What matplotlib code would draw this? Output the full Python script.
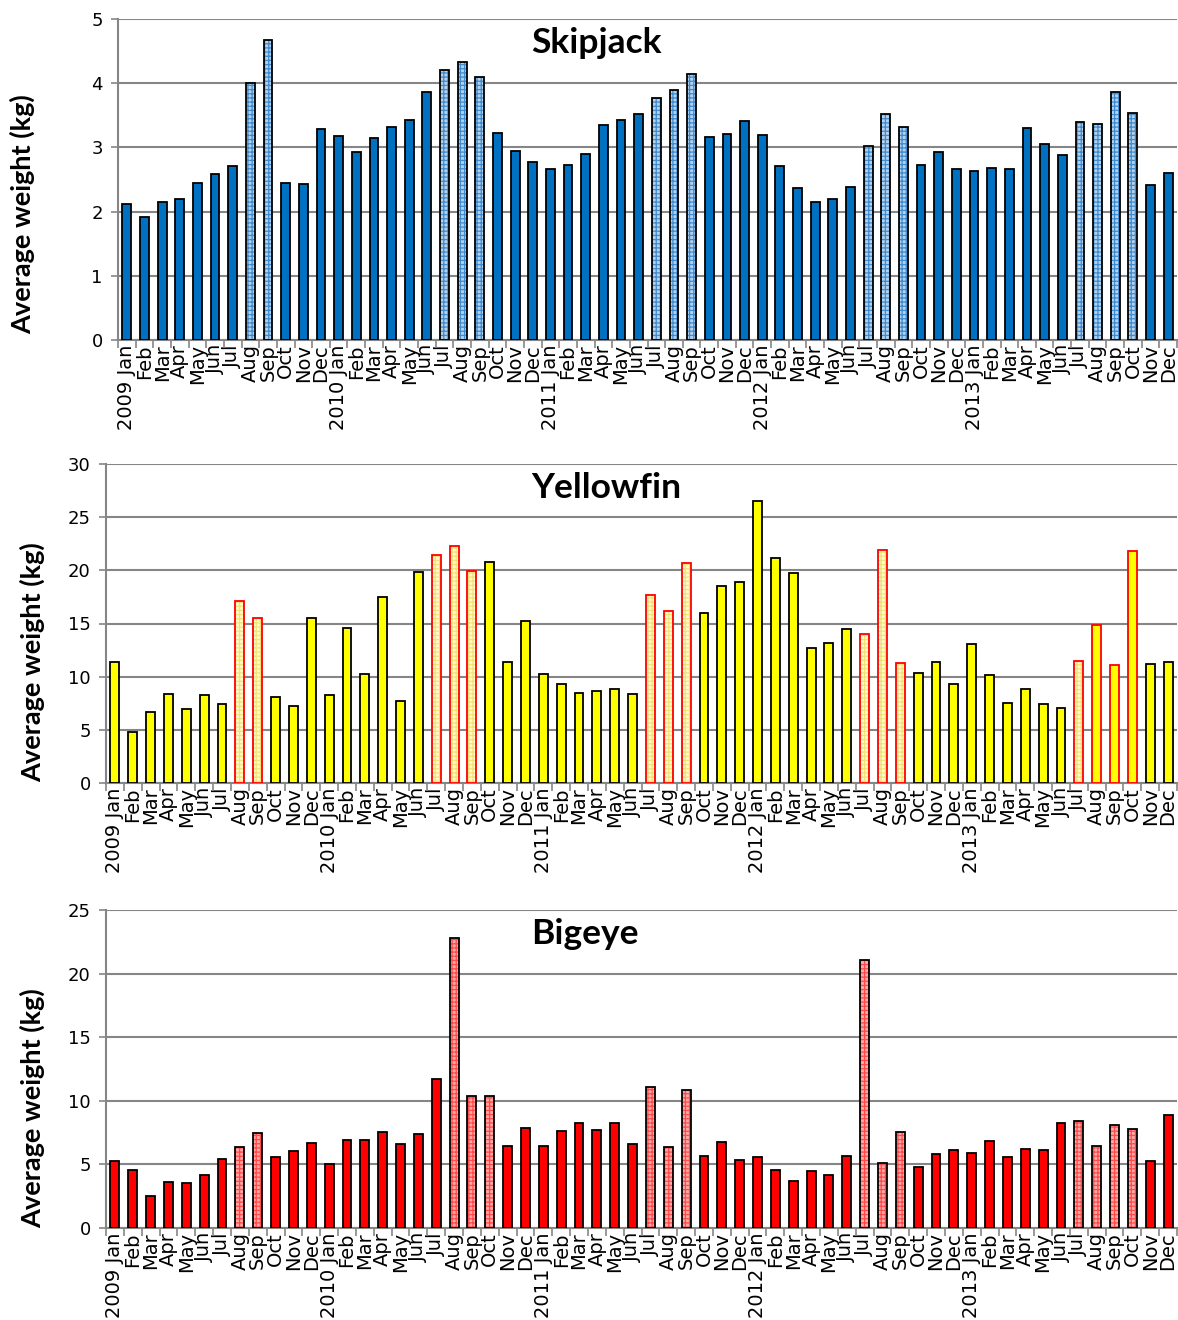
import matplotlib.pyplot as plt
import numpy as np

# month labels, 2009 Jan .. 2013 Dec
months = ['Jan', 'Feb', 'Mar', 'Apr', 'May', 'Jun',
          'Jul', 'Aug', 'Sep', 'Oct', 'Nov', 'Dec']
years = [2009, 2010, 2011, 2012, 2013]
labels = []
for yr in years:
    for m in months:
        labels.append('%d %s' % (yr, m) if m == 'Jan' else m)

skipjack = [2.12, 1.91, 2.15, 2.20, 2.45, 2.58, 2.71, 4.01, 4.68, 2.45, 2.43, 3.29,
            3.17, 2.93, 3.14, 3.32, 3.42, 3.86, 4.20, 4.33, 4.09, 3.23, 2.95, 2.77,
            2.67, 2.73, 2.89, 3.35, 3.43, 3.52, 3.77, 3.90, 4.15, 3.16, 3.21, 3.41,
            3.19, 2.71, 2.37, 2.15, 2.19, 2.39, 3.02, 3.52, 3.31, 2.72, 2.93, 2.67,
            2.64, 2.68, 2.66, 3.30, 3.05, 2.88, 3.40, 3.37, 3.87, 3.54, 2.42, 2.60]

yellowfin = [11.40, 4.81, 6.66, 8.39, 6.94, 8.26, 7.47, 17.09, 15.55, 8.10, 7.22, 15.51,
             8.29, 14.57, 10.24, 17.52, 7.73, 19.88, 21.48, 22.27, 19.91, 20.82, 11.34, 15.20,
             10.27, 9.33, 8.48, 8.61, 8.83, 8.35, 17.71, 16.21, 20.73, 16.02, 18.56, 18.94,
             26.54, 21.20, 19.79, 12.69, 13.16, 14.51, 14.01, 21.95, 11.28, 10.36, 11.34, 9.27,
             13.10, 10.18, 7.57, 8.83, 7.44, 7.10, 11.49, 14.82, 11.06, 21.83, 11.21, 11.40]

bigeye = [5.27, 4.59, 2.54, 3.59, 3.54, 4.20, 5.40, 6.37, 7.48, 5.56, 6.03, 6.69,
          5.06, 6.95, 6.95, 7.58, 6.58, 7.37, 11.73, 22.80, 10.34, 10.39, 6.48, 7.90,
          6.43, 7.61, 8.29, 7.74, 8.26, 6.61, 11.12, 6.40, 10.81, 5.64, 6.77, 5.35,
          5.61, 4.59, 3.73, 4.46, 4.17, 5.69, 21.07, 5.12, 7.56, 4.80, 5.82, 6.14,
          5.90, 6.87, 5.61, 6.22, 6.14, 8.29, 8.42, 6.48, 8.08, 7.79, 5.27, 8.92]

# months drawn with the pale patterned fill
skj_pattern = [7, 8, 18, 19, 20, 30, 31, 32, 42, 43, 44, 54, 55, 56, 57]
yft_pattern = [7, 8, 18, 19, 20, 30, 31, 32, 42, 43, 44, 54]
yft_redline = [55, 56, 57]   # solid fill but red outline
bet_pattern = [7, 8, 19, 20, 21, 30, 31, 32, 42, 43, 44, 54, 55, 56, 57]

W, H = 1178, 1320
fig = plt.figure(figsize=(W / 100, H / 100), dpi=100)
plt.rcParams['hatch.linewidth'] = 0.9

grey = '#868686'
x = np.arange(len(labels))
bw = 0.5


def panel(px_left, px_top, px_bottom, vals, ymax, ystep, solid, pale, hatchcol,
          pattern, pat_edge, title, ylab_x, ylab_y, redline=()):
    ax = fig.add_axes([px_left / W, 1 - px_bottom / H,
                       (1177 - px_left) / W, (px_bottom - px_top) / H])
    vals = np.array(vals)
    pat = np.zeros(len(vals), bool)
    pat[pattern] = True
    red = np.zeros(len(vals), bool)
    red[list(redline)] = True
    plain = ~pat & ~red
    # plain bars
    ax.bar(x[plain], vals[plain], bw, color=solid, edgecolor='black', linewidth=1.3, zorder=3)
    # red outlined solid bars
    if red.any():
        ax.bar(x[red], vals[red], bw, color=solid, edgecolor='red', linewidth=1.3, zorder=3)
    # patterned bars: fill + hatch, then outline
    ax.bar(x[pat], vals[pat], bw, color=pale, edgecolor=hatchcol, hatch='++++',
           linewidth=0, zorder=3)
    ax.bar(x[pat], vals[pat], bw, fill=False, edgecolor=pat_edge, linewidth=1.3, zorder=4)

    ax.set_xlim(-0.5, len(vals) - 0.5)
    ax.set_ylim(0, ymax)
    ax.set_yticks(np.arange(0, ymax + 0.01, ystep))
    ax.yaxis.grid(True, color=grey, linewidth=1.5)
    ax.set_axisbelow(True)
    ax.set_xticks(x)
    ax.set_xticklabels(labels, rotation=90, fontsize=14)
    ax.set_xticks(np.arange(-0.5, len(vals), 1), minor=True)
    ax.tick_params(axis='x', which='major', length=0, pad=3)
    ax.tick_params(axis='x', which='minor', length=6, color=grey, width=1.2)
    ax.tick_params(axis='y', length=5, color=grey, width=1.2, labelsize=13, pad=6)
    for s in ['top', 'right']:
        ax.spines[s].set_visible(False)
    for s in ['left', 'bottom']:
        ax.spines[s].set_color(grey)
        ax.spines[s].set_linewidth(1.5)
    ax.text(531 / W, 1 - (px_top + 24) / H, title, transform=fig.transFigure,
            fontsize=25.5, fontweight='bold', family=['Lato', 'DejaVu Sans'],
            ha='left', va='center')
    fig.text(ylab_x / W, 1 - ylab_y / H, 'Average weight (kg)', rotation=90,
             fontsize=19.5, fontweight='bold', family=['Lato', 'DejaVu Sans'],
             ha='center', va='center')
    return ax


panel(118, 19, 340, skipjack, 5, 1, '#0070c0', '#b3d2ee', '#3f8bd0',
      skj_pattern, 'black', 'Skipjack', 22, 214)
panel(106, 464, 783, yellowfin, 30, 5, '#ffff00', '#fffbc8', '#f2e27a',
      yft_pattern, 'red', 'Yellowfin', 32, 662, redline=yft_redline)
panel(106, 910, 1228, bigeye, 25, 5, '#ff0000', '#ffa8a8', '#ff4a4a',
      bet_pattern, 'black', 'Bigeye', 32, 1108)

fig.savefig('out.png', dpi=100)
